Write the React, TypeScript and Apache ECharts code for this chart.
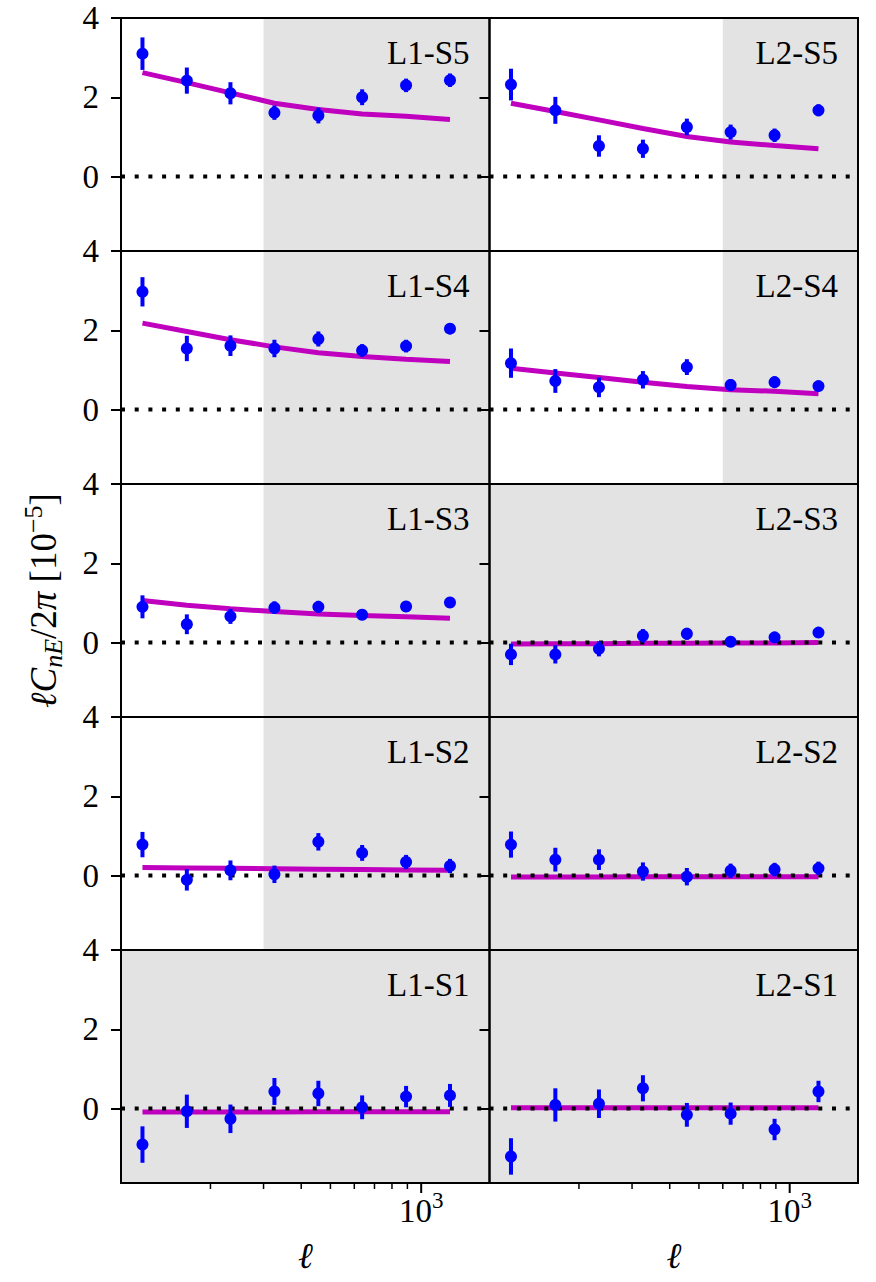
import React, { useEffect, useRef } from 'react';
import * as echarts from 'echarts';

// multipole bin centres
const ELL = [119, 167, 233, 326, 456, 637, 891, 1246];
const X_MIN = 101;
const X_MAX = 1685;
const Y_MIN = -1.88;
const Y_MAX = 4;
const Y_TICKS = [0, 2, 4];
const X_MINOR_TICKS = [200, 300, 400, 500, 600, 700, 800, 900];
const X_MAJOR_TICKS = [1000];

const PANEL_LABELS = ['L1-S5', 'L2-S5', 'L1-S4', 'L2-S4', 'L1-S3', 'L2-S3', 'L1-S2', 'L2-S2', 'L1-S1', 'L2-S1'];
// scales from which the panel is shaded (excluded)
const SHADE_FROM = [300, 600, 300, 600, 300, X_MIN, 300, X_MIN, X_MIN, X_MIN];

// measured points, errors, model
const L1S5 = [3.10, 2.42, 2.10, 1.61, 1.54, 2.00, 2.30, 2.43];
const L1S5_ERR = [0.41, 0.33, 0.28, 0.18, 0.20, 0.20, 0.17, 0.17];
const L1S5_MODEL = [2.62, 2.37, 2.11, 1.85, 1.69, 1.58, 1.52, 1.44];

const L2S5 = [2.32, 1.67, 0.77, 0.70, 1.25, 1.12, 1.04, 1.67];
const L2S5_ERR = [0.40, 0.34, 0.27, 0.23, 0.21, 0.19, 0.17, 0.15];
const L2S5_MODEL = [1.85, 1.64, 1.43, 1.21, 1.01, 0.87, 0.78, 0.70];

const L1S4 = [2.97, 1.54, 1.61, 1.54, 1.78, 1.49, 1.60, 2.04];
const L1S4_ERR = [0.37, 0.32, 0.26, 0.22, 0.19, 0.16, 0.16, 0.14];
const L1S4_MODEL = [2.18, 1.97, 1.76, 1.58, 1.43, 1.34, 1.27, 1.21];

const L2S4 = [1.17, 0.72, 0.56, 0.75, 1.07, 0.62, 0.69, 0.59];
const L2S4_ERR = [0.37, 0.30, 0.25, 0.22, 0.20, 0.15, 0.15, 0.13];
const L2S4_MODEL = [1.04, 0.92, 0.81, 0.69, 0.58, 0.50, 0.46, 0.40];

const L1S3 = [0.90, 0.46, 0.66, 0.88, 0.90, 0.70, 0.91, 1.01];
const L1S3_ERR = [0.29, 0.25, 0.19, 0.16, 0.15, 0.12, 0.12, 0.11];
const L1S3_MODEL = [1.06, 0.94, 0.85, 0.78, 0.72, 0.68, 0.65, 0.61];

const L2S3 = [-0.30, -0.30, -0.16, 0.17, 0.22, 0.02, 0.13, 0.25];
const L2S3_ERR = [0.27, 0.23, 0.19, 0.17, 0.15, 0.12, 0.12, 0.11];
const L2S3_MODEL = [-0.04, -0.03, -0.03, -0.02, -0.02, -0.01, -0.01, 0.0];

const L1S2 = [0.78, -0.11, 0.13, 0.03, 0.85, 0.57, 0.34, 0.24];
const L1S2_ERR = [0.32, 0.27, 0.25, 0.22, 0.22, 0.20, 0.18, 0.18];
const L1S2_MODEL = [0.20, 0.19, 0.18, 0.17, 0.16, 0.15, 0.14, 0.13];

const L2S2 = [0.78, 0.40, 0.40, 0.10, -0.03, 0.12, 0.15, 0.18];
const L2S2_ERR = [0.33, 0.30, 0.26, 0.23, 0.22, 0.18, 0.17, 0.17];
const L2S2_MODEL = [-0.04, -0.04, -0.04, -0.03, -0.03, -0.03, -0.03, -0.03];

const L1S1 = [-0.91, -0.07, -0.26, 0.43, 0.38, 0.03, 0.30, 0.33];
const L1S1_ERR = [0.46, 0.42, 0.36, 0.34, 0.32, 0.30, 0.27, 0.29];
const L1S1_MODEL = [-0.09, -0.09, -0.09, -0.09, -0.08, -0.08, -0.08, -0.08];

const L2S1 = [-1.21, 0.09, 0.12, 0.51, -0.16, -0.13, -0.53, 0.43];
const L2S1_ERR = [0.46, 0.42, 0.36, 0.33, 0.30, 0.28, 0.27, 0.27];
const L2S1_MODEL = [0.02, 0.02, 0.02, 0.02, 0.02, 0.02, 0.02, 0.02];

const VALUES = [L1S5, L2S5, L1S4, L2S4, L1S3, L2S3, L1S2, L2S2, L1S1, L2S1];
const ERRORS = [L1S5_ERR, L2S5_ERR, L1S4_ERR, L2S4_ERR, L1S3_ERR, L2S3_ERR, L1S2_ERR, L2S2_ERR, L1S1_ERR, L2S1_ERR];
const MODELS = [L1S5_MODEL, L2S5_MODEL, L1S4_MODEL, L2S4_MODEL, L1S3_MODEL, L2S3_MODEL, L1S2_MODEL, L2S2_MODEL, L1S1_MODEL, L2S1_MODEL];

// layout
const SERIF = "'Liberation Serif', 'DejaVu Serif', serif";
const GRID_LEFT = [121, 489.5];
const GRID_W = 368.5;
const GRID_TOP0 = 18;
const GRID_H = 233;
const N_ROWS = 5;

const BLUE = '#0000ff';
const MAGENTA = '#bf00bf';
const SHADE = '#e3e3e3';

function buildOption() {
  const grid: any[] = [];
  const xAxis: any[] = [];
  const yAxis: any[] = [];
  const series: any[] = [];
  const graphic: any[] = [];

  PANEL_LABELS.forEach((label, i) => {
    const r = Math.floor(i / 2);
    const c = i % 2;
    const top = GRID_TOP0 + r * GRID_H;
    grid.push({
      left: GRID_LEFT[c],
      top,
      width: GRID_W,
      height: GRID_H,
      show: true,
      borderColor: '#000',
      borderWidth: 2,
      backgroundColor: 'transparent',
      z: 6,
    });
    xAxis.push({
      gridIndex: i,
      type: 'log',
      logBase: 10,
      min: X_MIN,
      max: X_MAX,
      axisLine: { show: false },
      axisTick: { show: false },
      axisLabel: { show: false },
      splitLine: { show: false },
      minorTick: { show: false },
      z: 6,
    });
    yAxis.push({
      gridIndex: i,
      type: 'value',
      min: Y_MIN,
      max: Y_MAX,
      axisLine: { show: false },
      splitLine: { show: false },
      axisTick: {
        show: true,
        inside: false,
        length: 10,
        lineStyle: { color: '#000', width: 2 },
        customValues: Y_TICKS,
      },
      axisLabel: {
        show: c === 0,
        customValues: Y_TICKS,
        margin: 22,
        fontSize: 33,
        fontFamily: SERIF,
        color: '#000',
      },
      z: 6,
    });

    // model curve + shaded (excluded) region
    series.push({
      type: 'line',
      xAxisIndex: i,
      yAxisIndex: i,
      data: ELL.map((x, k) => [x, MODELS[i][k]]),
      symbol: 'none',
      silent: true,
      lineStyle: { color: MAGENTA, width: 5 },
      z: 2,
      markArea: {
        silent: true,
        z: 1,
        itemStyle: { color: SHADE, opacity: 1 },
        data: [[{ xAxis: SHADE_FROM[i] }, { xAxis: X_MAX }]],
      },
    });
    // zero line
    series.push({
      type: 'line',
      xAxisIndex: i,
      yAxisIndex: i,
      data: [[X_MIN, 0], [X_MAX, 0]],
      symbol: 'none',
      silent: true,
      lineStyle: { color: '#000', width: 4, type: [4, 9.7], cap: 'butt' },
      z: 3,
    });
    // error bars
    series.push({
      type: 'custom',
      xAxisIndex: i,
      yAxisIndex: i,
      silent: true,
      z: 4,
      data: ELL.map((x, k) => [x, VALUES[i][k], ERRORS[i][k]]),
      encode: { x: 0, y: 1 },
      renderItem: (params: any, api: any) => {
        const x = api.value(0);
        const y = api.value(1);
        const e = api.value(2);
        const lo = api.coord([x, y - e]);
        const hi = api.coord([x, y + e]);
        return {
          type: 'line',
          shape: { x1: lo[0], y1: lo[1], x2: hi[0], y2: hi[1] },
          style: { stroke: BLUE, lineWidth: 4 },
        };
      },
    });
    // points
    series.push({
      type: 'scatter',
      xAxisIndex: i,
      yAxisIndex: i,
      silent: true,
      symbol: 'circle',
      symbolSize: 12,
      itemStyle: { color: BLUE, opacity: 1 },
      data: ELL.map((x, k) => [x, VALUES[i][k]]),
      z: 5,
    });

    // x ticks on the bottom row
    if (r === N_ROWS - 1) {
      series.push({
        type: 'custom',
        xAxisIndex: i,
        yAxisIndex: i,
        silent: true,
        z: 7,
        data: [
          ...X_MINOR_TICKS.map((v) => [v, Y_MIN, 0]),
          ...X_MAJOR_TICKS.map((v) => [v, Y_MIN, 1]),
        ],
        encode: { x: 0, y: 1 },
        renderItem: (params: any, api: any) => {
          const v = api.value(0);
          const major = api.value(2) === 1;
          const p = api.coord([v, Y_MIN]);
          const children: any[] = [
            {
              type: 'line',
              shape: { x1: p[0], y1: p[1], x2: p[0], y2: p[1] + (major ? 10 : 6) },
              style: { stroke: '#000', lineWidth: major ? 2 : 1.5 },
            },
          ];
          if (major) {
            const exp = Math.round(Math.log10(v));
            children.push({
              type: 'text',
              x: p[0],
              y: p[1] + 27.5,
              style: {
                text: `{b|10}{s|${exp}}`,
                align: 'center',
                textAlign: 'center',
                verticalAlign: 'middle',
                textVerticalAlign: 'middle',
                fill: '#000',
                rich: {
                  b: { fontSize: 33, fontFamily: SERIF, lineHeight: 44, fill: '#000' },
                  s: { fontSize: 23, fontFamily: SERIF, verticalAlign: 'top', fill: '#000' },
                },
              },
            });
          }
          return { type: 'group', children };
        },
      });
    }

    // panel label
    graphic.push({
      type: 'text',
      x: GRID_LEFT[c] + GRID_W - 20,
      y: top + 35,
      z: 10,
      style: {
        text: label,
        fontSize: 33,
        fontFamily: SERIF,
        fill: '#000',
        align: 'right',
        textAlign: 'right',
        verticalAlign: 'middle',
        textVerticalAlign: 'middle',
      },
    });
  });

  // x axis labels (ℓ)
  [0, 1].forEach((c) => {
    graphic.push({
      type: 'text',
      x: GRID_LEFT[c] + GRID_W / 2,
      y: GRID_TOP0 + N_ROWS * GRID_H + 73,
      z: 10,
      style: {
        text: 'ℓ',
        fontSize: 36,
        fontFamily: SERIF,
        fontStyle: 'italic',
        fill: '#000',
        align: 'center',
        textAlign: 'center',
        verticalAlign: 'middle',
        textVerticalAlign: 'middle',
      },
    });
  });

  // y axis label
  graphic.push({
    type: 'text',
    x: 43,
    y: GRID_TOP0 + (N_ROWS * GRID_H) / 2,
    rotation: Math.PI / 2,
    z: 10,
    style: {
      text: '{i|ℓC}{sub|nE}{r|/2}{i|π}{r| [10}{sup|−5}{r|]}',
      align: 'center',
      textAlign: 'center',
      verticalAlign: 'middle',
      textVerticalAlign: 'middle',
      fill: '#000',
      rich: {
        i: { fontSize: 37, fontFamily: SERIF, fontStyle: 'italic', lineHeight: 46, fill: '#000' },
        r: { fontSize: 37, fontFamily: SERIF, lineHeight: 46, fill: '#000' },
        sub: { fontSize: 26, fontFamily: SERIF, fontStyle: 'italic', verticalAlign: 'bottom', fill: '#000' },
        sup: { fontSize: 26, fontFamily: SERIF, verticalAlign: 'top', fill: '#000' },
      },
    },
  });

  return {
    animation: false,
    backgroundColor: '#ffffff',
    grid,
    xAxis,
    yAxis,
    series,
    graphic,
  };
}

export default function App() {
  const ref = useRef<HTMLDivElement>(null);
  useEffect(() => {
    if (!ref.current) return;
    const chart = echarts.init(ref.current, undefined, { renderer: 'svg' });
    chart.setOption(buildOption() as any);
    return () => chart.dispose();
  }, []);
  return (
    <div
      ref={ref}
      style={{ position: 'absolute', left: 0, top: 0, width: 876, height: 1282 }}
    />
  );
}
